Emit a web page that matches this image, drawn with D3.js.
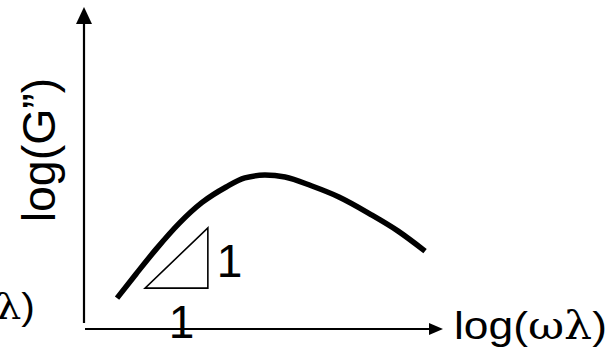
<!DOCTYPE html>
<html>
<head>
<meta charset="utf-8">
<script src="https://cdn.jsdelivr.net/npm/d3@7"></script>
<style>
  html, body { margin: 0; padding: 0; background: #fff; }
  svg { display: block; }
</style>
</head>
<body>
<svg id="chart" width="611" height="354"></svg>
<script>
// Loss modulus G'' versus frequency, both on log scales (schematic, no ticks)
const logOmega = [0.92, 1.45, 2.01, 2.65, 3.29, 3.96, 4.48, 5.04, 5.60, 6.35, 7.10, 7.97, 8.75, 9.50];
const logG2    = [0.96, 1.71, 2.48, 3.28, 3.93, 4.41, 4.69, 4.78, 4.72, 4.44, 4.10, 3.57, 3.04, 2.42];

// Slope triangle: run of 1, rise of 1
const slopeTriX = [1.70, 3.45, 3.45];
const slopeTriY = [1.27, 1.27, 3.14];
const slopeLabels = ["1", "1"];

const xLabel = "log(ωλ)";
const yLabel = "log(G\u201D)";

const svg = d3.select("#chart");

const x = d3.scaleLinear().domain([0, 10]).range([84, 443]);
const y = d3.scaleLinear().domain([0, 10]).range([329, 7]);

const ink = "#000";

// Arrowed axes
const axisW = 2.2;
svg.append("line")
  .attr("x1", x(0)).attr("x2", x(0))
  .attr("y1", y(0) - 6).attr("y2", y(10) + 16)
  .attr("stroke", ink).attr("stroke-width", axisW);
svg.append("path")
  .attr("d", `M${x(0)},${y(10)} L${x(0) - 8},${y(10) + 17} L${x(0) + 8},${y(10) + 17} Z`)
  .attr("fill", ink);

svg.append("line")
  .attr("x1", x(0) + 1).attr("x2", x(10) - 13)
  .attr("y1", y(0)).attr("y2", y(0))
  .attr("stroke", ink).attr("stroke-width", axisW);
svg.append("path")
  .attr("d", `M${x(10)},${y(0)} L${x(10) - 14},${y(0) - 6} L${x(10) - 14},${y(0) + 6} Z`)
  .attr("fill", ink);

// G'' curve
const pts = logOmega.map((v, i) => [v, logG2[i]]);
const line = d3.line()
  .x(d => x(d[0]))
  .y(d => y(d[1]))
  .curve(d3.curveMonotoneX);
svg.append("path")
  .attr("d", line(pts))
  .attr("fill", "none")
  .attr("stroke", ink)
  .attr("stroke-width", 5.5)
  .attr("stroke-linecap", "butt");

// Slope triangle
const tri = slopeTriX.map((v, i) => [x(v), y(slopeTriY[i])]);
svg.append("path")
  .attr("d", "M" + tri.map(p => p.join(",")).join("L") + "Z")
  .attr("fill", "none")
  .attr("stroke", ink)
  .attr("stroke-width", 1.6)
  .attr("stroke-linejoin", "miter");

const numFont = "'Liberation Sans', Arial, sans-serif";
const greekFont = "'DejaVu Serif', 'Liberation Serif', serif";
// run label under the triangle, rise label to its right
svg.append("text")
  .attr("x", (tri[0][0] + tri[1][0]) / 2 + 5)
  .attr("y", tri[0][1] + 50)
  .attr("text-anchor", "middle")
  .attr("font-family", numFont)
  .attr("font-size", 46)
  .attr("fill", ink)
  .text(slopeLabels[0]);
svg.append("text")
  .attr("x", tri[2][0] + 9)
  .attr("y", tri[1][1] - 11)
  .attr("font-family", numFont)
  .attr("font-size", 46)
  .attr("fill", ink)
  .text(slopeLabels[1]);

// Axis titles
function omegaLabel(sel, size, len) {
  const t = sel.attr("font-family", numFont)
    .attr("font-size", size)
    .attr("fill", ink)
    .attr("textLength", len)
    .attr("lengthAdjust", "spacingAndGlyphs");
  const parts = xLabel.match(/^(log\()(.+)(\))$/);
  t.append("tspan").text(parts[1]);
  t.append("tspan").attr("font-family", greekFont).text(parts[2]);
  t.append("tspan").text(parts[3]);
  return t;
}

omegaLabel(svg.append("text").attr("x", 454).attr("y", 339), 39, 153);

// neighbouring panel's axis title, clipped by the frame edge
omegaLabel(svg.append("text").attr("x", 35).attr("y", 319).attr("text-anchor", "end"), 36, 141);

svg.append("text")
  .attr("transform", "translate(55,150) rotate(-90)")
  .attr("text-anchor", "middle")
  .attr("font-family", numFont)
  .attr("font-size", 46.5)
  .attr("fill", ink)
  .text(yLabel);
</script>
</body>
</html>
